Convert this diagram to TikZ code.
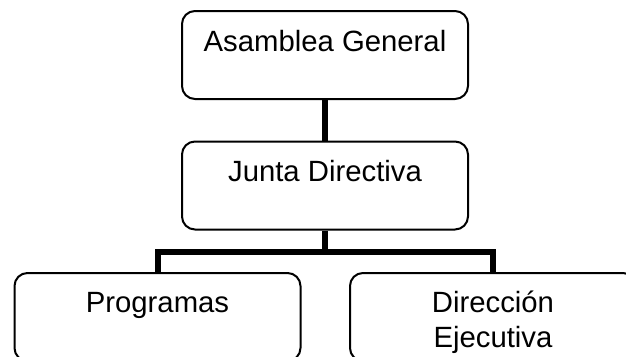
\documentclass[tikz,border=0pt]{standalone}
\usepackage{fontspec}
\setmainfont{Liberation Sans}
\usetikzlibrary{calc}
\begin{document}
\begin{tikzpicture}[x=1pt,y=-1pt,
  orgbox/.style={draw=black,line width=2pt,rounded corners=13pt,
    minimum width=286pt,minimum height=88pt,inner sep=0pt},
  orgtext/.style={anchor=base,align=center,inner sep=0pt,
    font=\fontsize{29.3}{35}\selectfont},
  link/.style={line width=6pt,draw=black}]
  \useasboundingbox (0,0) rectangle (626,356);
  % boxes
  \node[orgbox] (ag) at (325,55) {};
  \node[orgbox] (jd) at (325,185.5) {};
  \node[orgbox] (pr) at (157.5,317) {};
  \node[orgbox] (de) at (493,317) {};
  % labels (a two-line node sits on the baseline of its last line)
  \node[orgtext] (agt) at ($(ag.north)+(0,41)$) {Asamblea General};
  \node[orgtext] (jdt) at ($(jd.north)+(0,41)$) {Junta Directiva};
  \node[orgtext] (prt) at ($(pr.north)+(0,40)$) {Programas};
  \node[orgtext] (det) at ($(de.north)+(0,75)$) {Dirección\\Ejecutiva};
  % connectors
  \coordinate (bus) at (325,252);
  \draw[link] (ag.south) -- (jd.north);
  \draw[link] (jd.south) -- (bus);
  \draw[link] (pr.north) |- (bus) -| (de.north);
\end{tikzpicture}
\end{document}
